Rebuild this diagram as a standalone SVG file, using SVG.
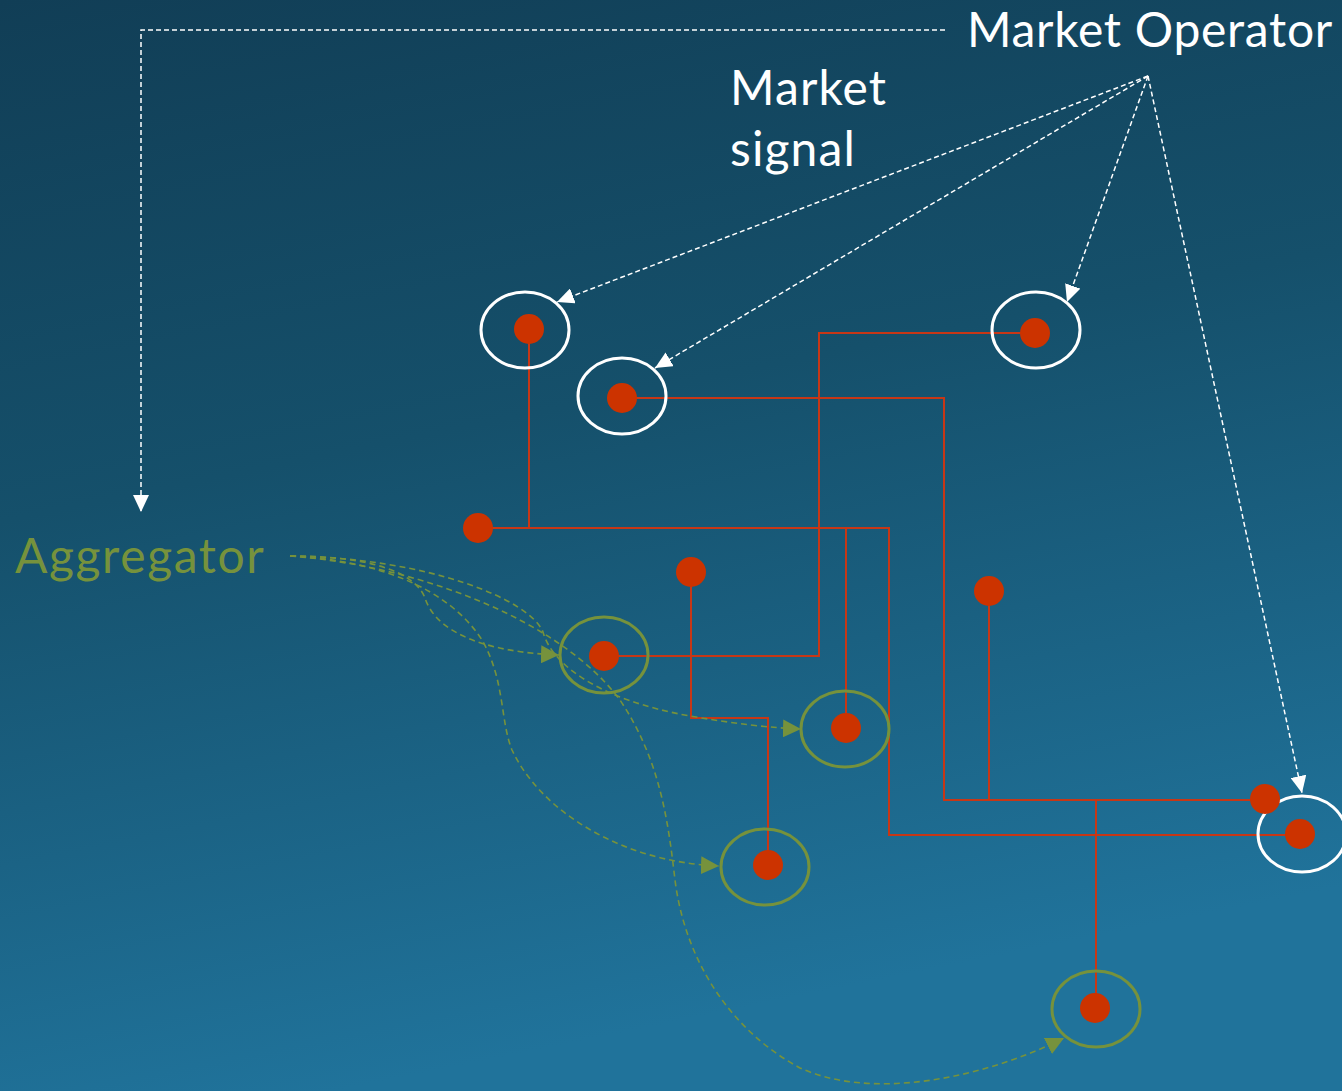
<svg xmlns="http://www.w3.org/2000/svg" width="1342" height="1091" viewBox="0 0 1342 1091">
<defs>
<linearGradient id="bg" x1="0" y1="0" x2="0.25" y2="1">
<stop offset="0" stop-color="#113e56"/>
<stop offset="0.45" stop-color="#15506b"/>
<stop offset="1" stop-color="#20739b"/>
</linearGradient>
<marker id="wa" markerWidth="18" markerHeight="16" refX="17" refY="8" orient="auto" markerUnits="userSpaceOnUse">
<path d="M0,0 L17,8 L0,16 z" fill="#ffffff"/>
</marker>
<marker id="ga" markerWidth="19" markerHeight="18" refX="18" refY="9" orient="auto" markerUnits="userSpaceOnUse">
<path d="M0,0 L18,9 L0,18 z" fill="#76923c"/>
</marker>
<style>
.t{font-family:"Lato","Liberation Sans",sans-serif;font-size:48px}
.wl{fill:none;stroke:#ffffff;stroke-width:1.5;stroke-dasharray:5 3}
.gl{fill:none;stroke:#76923c;stroke-width:1.6;stroke-dasharray:6 4}
.rl{fill:none;stroke:#c73716;stroke-width:2}
.we{fill:none;stroke:#ffffff;stroke-width:3}
.ge{fill:none;stroke:#76923c;stroke-width:3}
.dot{fill:#cc3300}
</style>
</defs>
<rect width="1342" height="1091" fill="url(#bg)"/>

<g id="connectors">
<path class="rl" d="M1035,333 H819 V656 H604"/>
<path class="rl" d="M622,398 H944 V800 H1265"/>
<path class="rl" d="M1096,800 V1008"/>
<path class="rl" d="M989,591 V800"/>
<path class="rl" d="M529,329 V528"/>
<path class="rl" d="M478,528 H889 V835 H1300"/>
<path class="rl" d="M846,528 V728"/>
<path class="rl" d="M691,572 V718 H768 V865"/>

<path class="wl" d="M945,30 H141 V512" marker-end="url(#wa)"/>
<path class="wl" d="M1148,76 L557,302" marker-end="url(#wa)"/>
<path class="wl" d="M1148,76 L655,368" marker-end="url(#wa)"/>
<path class="wl" d="M1148,76 L1067,302" marker-end="url(#wa)"/>
<path class="wl" d="M1148,76 L1302,793" marker-end="url(#wa)"/>

<path class="gl" d="M290,556 C370,556 415,572 425,598 C435,630 480,652 559,655" marker-end="url(#ga)"/>
<path class="gl" d="M290,556 C430,558 530,600 543,632 C552,665 600,700 690,716 C730,723 770,728 801,729" marker-end="url(#ga)"/>
<path class="gl" d="M290,556 C380,560 450,590 482,640 C505,680 500,720 512,750 C540,810 620,862 719,866" marker-end="url(#ga)"/>
<path class="gl" d="M290,556 C420,566 560,620 620,700 C660,760 668,820 675,880 C685,960 730,1030 800,1068 C870,1100 980,1080 1064,1038" marker-end="url(#ga)"/>
</g>

<g id="market-operator"><text class="t" x="967" y="47" fill="#ffffff" letter-spacing="0.7">Market Operator</text></g>
<g id="market-signal"><text class="t" fill="#ffffff" letter-spacing="1.1"><tspan x="730" y="105">Market</tspan><tspan x="730" y="166">signal</tspan></text></g>
<g id="aggregator"><text class="t" x="15" y="573" fill="#76923c" letter-spacing="1.6">Aggregator</text></g>

<g id="node-a"><ellipse class="we" cx="525" cy="330" rx="44" ry="38"/><circle class="dot" cx="529" cy="329" r="15"/></g>
<g id="node-b"><ellipse class="we" cx="622" cy="396" rx="44" ry="38"/><circle class="dot" cx="622" cy="398" r="15"/></g>
<g id="node-c"><ellipse class="we" cx="1036" cy="330" rx="44" ry="38"/><circle class="dot" cx="1035" cy="333" r="15"/></g>
<g id="node-d"><ellipse class="we" cx="1302" cy="834" rx="44" ry="38"/><circle class="dot" cx="1300" cy="834" r="15"/></g>
<g id="node-e"><circle class="dot" cx="478" cy="528" r="15"/></g>
<g id="node-f"><circle class="dot" cx="691" cy="572" r="15"/></g>
<g id="node-g"><circle class="dot" cx="989" cy="591" r="15"/></g>
<g id="node-h"><circle class="dot" cx="1265" cy="799" r="15"/></g>
<g id="node-i"><ellipse class="ge" cx="604" cy="655" rx="44" ry="38"/><circle class="dot" cx="604" cy="656" r="15"/></g>
<g id="node-j"><ellipse class="ge" cx="845" cy="729" rx="44" ry="38"/><circle class="dot" cx="846" cy="728" r="15"/></g>
<g id="node-k"><ellipse class="ge" cx="765" cy="867" rx="44" ry="38"/><circle class="dot" cx="768" cy="865" r="15"/></g>
<g id="node-l"><ellipse class="ge" cx="1096" cy="1009" rx="44" ry="38"/><circle class="dot" cx="1095" cy="1008" r="15"/></g>
</svg>
